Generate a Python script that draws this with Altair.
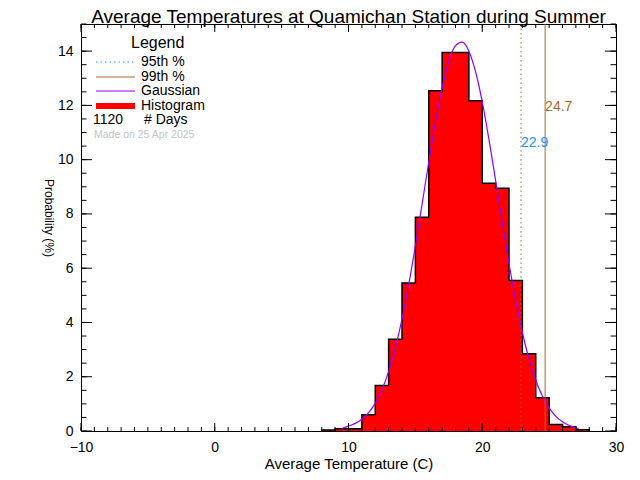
import altair as alt
import pandas as pd

# ---------------- data ----------------
bin_lefts = list(range(8, 28))          # 1-degree bins, 8..28 C
hist_pct = [0.04, 0.08, 0.08, 0.60, 1.68, 3.38, 5.45, 7.88, 12.54, 13.95,
            13.95, 12.17, 9.13, 8.95, 5.55, 2.85, 1.23, 0.24, 0.16, 0.05]

gauss_t = [9.5, 10, 10.5, 11, 11.5, 12, 12.5, 13, 13.5, 14, 14.5, 15, 15.5,
           16, 16.5, 17, 17.5, 18, 18.5, 19, 19.5, 20, 20.5, 21, 21.5, 22,
           22.5, 23, 23.5, 24, 24.5, 25, 25.5, 26, 26.5, 27, 27.2]
gauss_p = [0.09, 0.18, 0.28, 0.43, 0.68, 1.02, 1.52, 2.19, 3.05, 4.12, 5.39,
           6.82, 8.35, 9.91, 11.38, 12.65, 13.62, 14.2, 14.33, 14.0, 13.24,
           12.13, 10.75, 9.23, 7.67, 6.17, 4.81, 3.63, 2.65, 1.87, 1.28, 0.85,
           0.54, 0.34, 0.20, 0.12, 0.09]

p95 = 22.9
p99 = 24.7
n_days = 1120
made_on = "Made on 25 Apr 2025"
legend_labels = ["95th %", "99th %", "Gaussian", "Histogram"]

x_major = [-10, 0, 10, 20, 30]
x_minor = list(range(-10, 31))
y_major = [0, 2, 4, 6, 8, 10, 12, 14]
y_minor = [i * 0.5 for i in range(31)]

title_text = "Average Temperatures at Quamichan Station during Summer"
x_title = "Average Temperature (C)"
y_title = "Probability (%)"

# ---------------- layout / style ----------------
W, H = 535, 407
OX, OY = 81, 24
FONT = "Liberation Sans"
RED = "#ff0000"
BROWN = "#a8692e"
BLUE = "#1e90ff"
PURPLE = "#8f00ff"

xs = alt.Scale(domain=[-10, 30], nice=False, zero=False)
ys = alt.Scale(domain=[0, 15], nice=False, zero=False)

x_axis = alt.Axis(values=x_major, grid=False, ticks=False, domain=False,
                  labelFont=FONT, labelFontSize=14, labelColor="black",
                  labelPadding=9, labelFlush=False, title=x_title,
                  titleFont=FONT, titleFontSize=15, titleFontWeight="normal",
                  titleColor="black", titleY=463 - OY - H,
                  titleBaseline="middle")
y_axis = alt.Axis(values=y_major, grid=False, ticks=False, domain=False,
                  labelFont=FONT, labelFontSize=14, labelColor="black",
                  labelPadding=8, labelFlush=False, title=y_title,
                  titleFont=FONT, titleFontSize=12, titleFontWeight="normal",
                  titleColor="black", titleAngle=90, titleX=48 - OX,
                  titleY=217.5 - OY, titleAlign="center",
                  titleBaseline="middle")


def X(field):
    return alt.X(field, type="quantitative", scale=xs, axis=x_axis)


def Y(field):
    return alt.Y(field, type="quantitative", scale=ys, axis=y_axis,
                 stack=None)


step_x = [bin_lefts[0]] + bin_lefts + [bin_lefts[-1] + 1]
step_y = [0] + hist_pct + [0]
step_df = pd.DataFrame({"t": step_x, "pct": step_y, "i": range(len(step_x))})

area_df = pd.DataFrame({"t": bin_lefts + [bin_lefts[-1] + 1],
                        "pct": hist_pct + [0]})

gauss_df = pd.DataFrame({"t": gauss_t, "pct": gauss_p})

# histogram fill as one stepped area (no seams between bins)
bars = alt.Chart(area_df).mark_area(
    color=RED, interpolate="step-after", opacity=1).encode(
    x=X("t"), y=Y("pct"))

outline = alt.Chart(step_df).mark_line(
    color="black", strokeWidth=1.5, interpolate="step-after").encode(
    x=X("t"), y=Y("pct"), order="i:Q")

gauss = alt.Chart(gauss_df).mark_line(
    color=PURPLE, strokeWidth=1.2, interpolate="monotone").encode(
    x=X("t"), y=Y("pct"))

r95 = alt.Chart(pd.DataFrame({"v": [p95]})).mark_rule(
    color=BROWN, strokeWidth=1, strokeDash=[1.5, 3]).encode(x=X("v"))
r99 = alt.Chart(pd.DataFrame({"v": [p99]})).mark_rule(
    color=BROWN, strokeWidth=1).encode(x=X("v"))

t95 = alt.Chart(pd.DataFrame({"v": [p95], "s": [f"{p95:.1f}"]})).mark_text(
    color=BLUE, font=FONT, fontSize=14, align="left", baseline="middle").encode(
    x=X("v"), y=alt.value(143 - OY), text="s:N")
t99 = alt.Chart(pd.DataFrame({"v": [p99], "s": [f"{p99:.1f}"]})).mark_text(
    color=BROWN, font=FONT, fontSize=14, align="left", baseline="middle").encode(
    x=X("v"), y=alt.value(107 - OY), text="s:N")


# inward tick marks on all four sides
def xticks(vals, ln):
    d = pd.DataFrame({"v": vals})
    bot = alt.Chart(d).mark_rule(color="black", strokeWidth=1).encode(
        x=X("v"), y=alt.value(H), y2=alt.value(H - ln))
    top = alt.Chart(d).mark_rule(color="black", strokeWidth=1).encode(
        x=X("v"), y=alt.value(0), y2=alt.value(ln))
    return [bot, top]


def yticks(vals, ln):
    d = pd.DataFrame({"v": vals})
    left = alt.Chart(d).mark_rule(color="black", strokeWidth=1).encode(
        y=Y("v"), x=alt.value(0), x2=alt.value(ln))
    right = alt.Chart(d).mark_rule(color="black", strokeWidth=1).encode(
        y=Y("v"), x=alt.value(W - ln), x2=alt.value(W))
    return [left, right]


ticks = (xticks(x_minor, 4) + xticks(x_major, 8)
         + yticks(y_minor, 5.5) + yticks(y_major, 11))

# chart title as a text mark above the plot frame
one = pd.DataFrame({"a": [0]})
title_mark = alt.Chart(one).mark_text(
    text=title_text, font=FONT, fontSize=19, align="center",
    baseline="alphabetic", color="black").encode(
    x=alt.value(W / 2), y=alt.value(22.5 - OY))

# legend drawn inside the plot area (pixel layout relative to plot origin)
legend = []
legend.append(alt.Chart(one).mark_text(
    text="Legend", font=FONT, fontSize=16, align="left", baseline="middle",
    color="black").encode(x=alt.value(131 - OX), y=alt.value(43 - OY)))
row_y = [62, 77, 91, 106]
line_styles = [dict(color=BLUE, strokeWidth=1.2, strokeDash=[1.5, 3]),
               dict(color=BROWN, strokeWidth=1.2),
               dict(color=PURPLE, strokeWidth=1.2),
               dict(color=RED, strokeWidth=6)]
for lab, ry, st in zip(legend_labels, row_y, line_styles):
    legend.append(alt.Chart(one).mark_rule(**st).encode(
        x=alt.value(96 - OX), x2=alt.value(135 - OX), y=alt.value(ry - OY)))
    legend.append(alt.Chart(one).mark_text(
        text=lab, font=FONT, fontSize=14, align="left", baseline="middle",
        color="black").encode(x=alt.value(141 - OX), y=alt.value(ry - OY)))
legend.append(alt.Chart(one).mark_text(
    text=str(n_days), font=FONT, fontSize=14, align="left",
    baseline="middle", color="black").encode(
    x=alt.value(93 - OX), y=alt.value(120 - OY)))
legend.append(alt.Chart(one).mark_text(
    text="# Days", font=FONT, fontSize=14, align="left", baseline="middle",
    color="black").encode(x=alt.value(144 - OX), y=alt.value(120 - OY)))
legend.append(alt.Chart(one).mark_text(
    text=made_on, font=FONT, fontSize=10.5, align="left", baseline="middle",
    color="#c4c4c4").encode(x=alt.value(94 - OX), y=alt.value(135 - OY)))

chart = alt.layer(
    bars, outline, gauss, r95, r99, t95, t99, *ticks, title_mark, *legend
).properties(
    width=W, height=H,
    autosize=alt.AutoSizeParams(type="none"),
    padding={"left": OX - 8, "top": OY - 8, "right": 16, "bottom": 48},
    background="white",
).configure_view(stroke="black", strokeWidth=1, fill="white")

chart.save("out.html", embed_options={"renderer": "svg", "actions": False})
